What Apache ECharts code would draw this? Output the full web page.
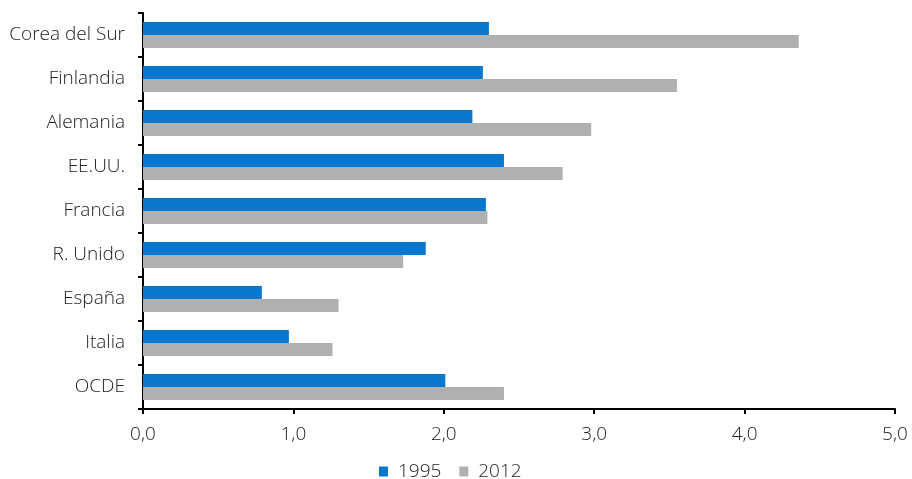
<!DOCTYPE html>
<html><head><meta charset="utf-8">
<script src="https://cdn.jsdelivr.net/npm/echarts@6/dist/echarts.min.js"></script>
<style>html,body{margin:0;padding:0;background:#fff}#c{width:912px;height:479px}</style>
</head><body><div id="c"></div>
<script>
const categories = ['Corea del Sur','Finlandia','Alemania','EE.UU.','Francia','R. Unido','España','Italia','OCDE'];
const values1995 = [2.30, 2.26, 2.19, 2.40, 2.28, 1.88, 0.79, 0.97, 2.01];
const values2012 = [4.36, 3.55, 2.98, 2.79, 2.29, 1.73, 1.30, 1.26, 2.40];
const xTicks = [0,1,2,3,4,5];
const font = 'Open Sans';
const chart = echarts.init(document.getElementById('c'));
chart.setOption({
  animation:false,
  textStyle:{fontFamily:font},
  grid:{left:143,right:17,top:13,bottom:70,containLabel:false},
  legend:{
    top:457,left:374,itemWidth:9,itemHeight:10,itemGap:18,
    icon:'rect',
    formatter:n=>' '+n,
    textStyle:{fontFamily:font,fontSize:19,fontWeight:300,color:'#222'},
    data:['1995','2012']
  },
  xAxis:{
    type:'value',min:xTicks[0],max:xTicks[xTicks.length-1],interval:1,
    axisLine:{show:true,lineStyle:{color:'#000',width:2}},
    axisTick:{show:true,length:5,lineStyle:{color:'#000',width:2}},
    splitLine:{show:false},
    axisLabel:{margin:16,fontSize:19,fontWeight:300,color:'#222',fontFamily:font,
      formatter:v=>v.toFixed(1).replace('.',',')}
  },
  yAxis:{
    type:'category',inverse:true,data:categories,
    axisLine:{show:true,lineStyle:{color:'#000',width:2}},
    axisTick:{show:true,length:5,lineStyle:{color:'#000',width:2}},
    axisLabel:{margin:18,fontSize:19,fontWeight:300,color:'#222',fontFamily:font}
  },
  series:[
    {name:'1995',type:'bar',data:values1995,barWidth:13,barGap:'0%',
     itemStyle:{color:'#0A77CF'}},
    {name:'2012',type:'bar',data:values2012,barWidth:13,barGap:'0%',
     itemStyle:{color:'#B0B0B0'}}
  ]
});
</script></body></html>
